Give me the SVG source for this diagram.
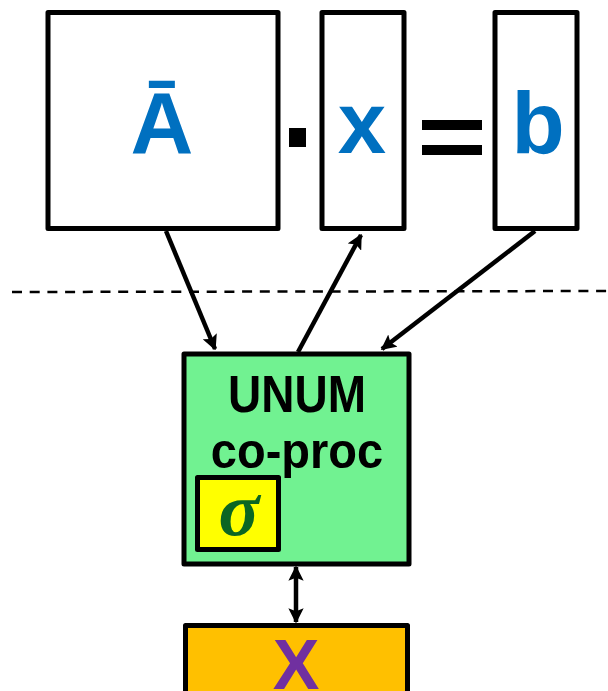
<svg xmlns="http://www.w3.org/2000/svg" width="608" height="691" viewBox="0 0 608 691">
<style>
.box{stroke:#000;stroke-width:5;stroke-linejoin:round}
.lbl{font-family:"Liberation Sans",Arial,sans-serif;font-weight:bold;text-anchor:middle}
.blue{fill:#0070C0;font-size:87px}
.conn{stroke:#000;stroke-width:4.5;fill:none}
</style>
<defs>
<marker id="ah" viewBox="0 0 10 10" refX="9" refY="5" markerWidth="3.4" markerHeight="3.4" orient="auto-start-reverse" markerUnits="strokeWidth">
<path d="M0,0 L10,5 L0,10 L2,5 z" fill="#000"/>
</marker>
</defs>
<g id="matA"><rect class="box" x="48" y="12.5" width="230" height="216" fill="#fff"/><text class="lbl blue" x="162" y="153">Ā</text></g>
<g id="dot"><rect x="289" y="128" width="17" height="19" fill="#000"/></g>
<g id="vecx"><rect class="box" x="322" y="12.5" width="82" height="216" fill="#fff"/><text class="lbl blue" x="362" y="153">x</text></g>
<g id="eq"><rect x="422" y="120" width="60" height="10" fill="#000"/><rect x="422" y="145" width="60" height="10" fill="#000"/></g>
<g id="vecb"><rect class="box" x="495" y="12.5" width="82" height="216" fill="#fff"/><text class="lbl blue" x="538" y="153">b</text></g>
<line x1="12" y1="292" x2="608" y2="291" stroke="#000" stroke-width="2.5" stroke-dasharray="10,7.7"/>
<g id="coproc"><rect class="box" x="184" y="354" width="225" height="210" fill="#71F291"/>
<text class="lbl" font-size="46" transform="translate(297,412) scale(1,1.12)">UNUM</text>
<text class="lbl" font-size="47" transform="translate(297,468) scale(1,1.08)">co-proc</text>
<g id="sigma"><rect class="box" x="197.5" y="477.5" width="81" height="72" fill="#FFFF00"/>
<text x="239" y="535" font-family="'Liberation Serif','Times New Roman',serif" font-style="italic" font-weight="bold" font-size="76" fill="#0B6623" text-anchor="middle">σ</text></g></g>
<g id="xbox"><rect class="box" x="185.5" y="625.5" width="222" height="80" fill="#FFC000"/><text class="lbl" x="296" y="689" font-size="70" fill="#7030A0">X</text></g>
<g id="connectors">
<line class="conn" x1="166" y1="231" x2="215" y2="349" marker-end="url(#ah)"/>
<line class="conn" x1="298" y1="352" x2="361" y2="235" marker-end="url(#ah)"/>
<line class="conn" x1="535" y1="231" x2="382" y2="349" marker-end="url(#ah)"/>
<line class="conn" x1="296" y1="567" x2="296" y2="622" marker-start="url(#ah)" marker-end="url(#ah)"/>
</g>
</svg>
